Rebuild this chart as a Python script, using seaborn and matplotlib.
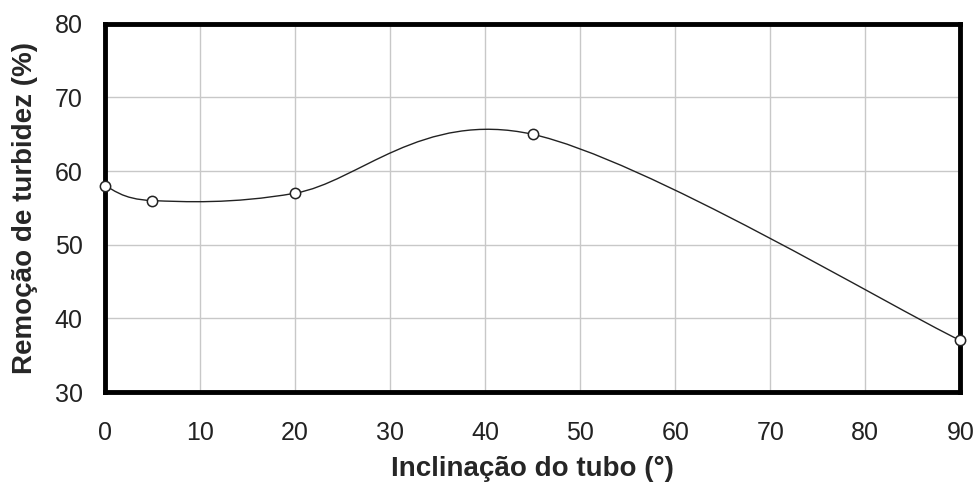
import matplotlib
matplotlib.use("Agg")
import matplotlib.pyplot as plt
from matplotlib.path import Path
from matplotlib.patches import PathPatch
import seaborn as sns
import pandas as pd

# Data
inclinacao = [0, 5, 20, 45, 90]
remocao = [58, 56, 57, 65, 37]
x_ticks = [0, 10, 20, 30, 40, 50, 60, 70, 80, 90]
y_ticks = [30, 40, 50, 60, 70, 80]

sns.set_theme(style="white")
plt.rcParams['font.family'] = ['Liberation Sans', 'DejaVu Sans']

df = pd.DataFrame({"x": inclinacao, "y": remocao})

fig = plt.figure(figsize=(9.8, 4.87), dpi=100)
ax = fig.add_axes([0.107, 0.195, 0.873, 0.756])

# Smoothed line (Excel-style Bezier through the data points)
pts = list(zip(inclinacao, remocao))
verts = [pts[0]]
codes = [Path.MOVETO]
n = len(pts)
for i in range(n - 1):
    p0 = pts[i - 1] if i > 0 else pts[i]
    p1 = pts[i]
    p2 = pts[i + 1]
    p3 = pts[i + 2] if i + 2 < n else pts[i + 1]
    c1 = (p1[0] + (p2[0] - p0[0]) / 6, p1[1] + (p2[1] - p0[1]) / 6)
    c2 = (p2[0] - (p3[0] - p1[0]) / 6, p2[1] - (p3[1] - p1[1]) / 6)
    verts += [c1, c2, p2]
    codes += [Path.CURVE4] * 3
ax.add_patch(PathPatch(Path(verts, codes), facecolor="none",
                       edgecolor="#222222", lw=1.0, zorder=3))

sns.scatterplot(data=df, x="x", y="y", ax=ax, marker="o", s=55,
                facecolor="white", edgecolor="#222222", linewidth=1.1,
                zorder=4, clip_on=False)

ax.set_xlim(0, 90)
ax.set_ylim(30, 80)
ax.set_xticks(x_ticks)
ax.set_yticks(y_ticks)
ax.grid(True, color="#c8c8c8", lw=1)
ax.set_axisbelow(True)
for s in ax.spines.values():
    s.set_linewidth(3.5)
    s.set_color("black")
ax.tick_params(direction="in", length=7, width=1, colors="black",
               labelsize=18)
ax.tick_params(axis="x", pad=21)
ax.tick_params(axis="y", pad=16)
ax.tick_params(labelcolor="#222222")

ax.set_xlabel("Inclinação do tubo (°)", fontsize=20, fontweight="bold", labelpad=8)
ax.set_ylabel("Remoção de turbidez (%)", fontsize=20, fontweight="bold", labelpad=12)

fig.savefig("out.png", dpi=100)
